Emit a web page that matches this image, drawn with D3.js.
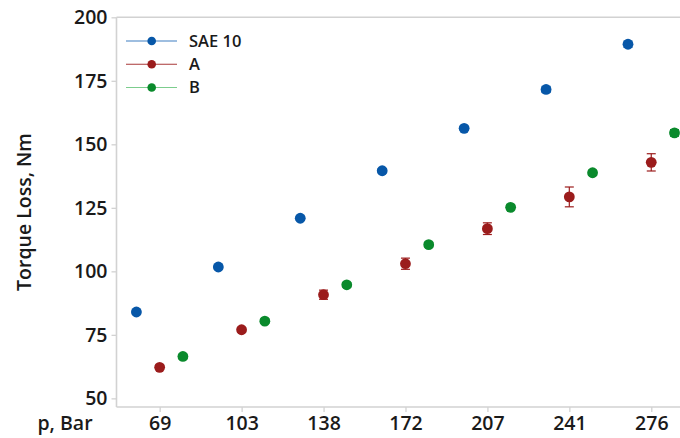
<!DOCTYPE html>
<html>
<head>
<meta charset="utf-8">
<script src="https://cdn.jsdelivr.net/npm/d3@7"></script>
<style>
  html, body { margin: 0; padding: 0; background: #fff; }
  svg { display: block; }
  text { font-family: "Open Sans", "Noto Sans", sans-serif; fill: #1a1a1a; }
</style>
</head>
<body>
<svg id="chart" width="680" height="438"></svg>
<script>
// ---- data ----
const categories = ["69", "103", "138", "172", "207", "241", "276"];
const seriesNames = ["SAE 10", "A", "B"];
const sae10 = [84.0, 101.7, 120.9, 139.6, 156.3, 171.6, 189.4];
const sae10Err = [0.8, 0.8, 0.8, 0.8, 0.8, 1.2, 1.2];
const seriesA = [62.2, 77.0, 90.8, 103.0, 116.8, 129.3, 142.9];
const seriesAErr = [0.9, 0.9, 1.8, 2.2, 2.3, 3.9, 3.4];
const seriesB = [66.5, 80.4, 94.7, 110.5, 125.2, 138.8, 154.5];
const seriesBErr = [0.9, 0.9, 0.9, 0.9, 1.0, 1.0, 1.3];
const yTicks = [50, 75, 100, 125, 150, 175, 200];
const xTitle = "p, Bar";
const yTitle = "Torque Loss, Nm";

const colors = { "SAE 10": "#0757a8", "A": "#9b1c1c", "B": "#0a8a2c" };
const legendLineColors = { "SAE 10": "#3f7fc2", "A": "#a83838", "B": "#7ccd8d" };

const series = [
  { name: "SAE 10", values: sae10, err: sae10Err },
  { name: "A", values: seriesA, err: seriesAErr },
  { name: "B", values: seriesB, err: seriesBErr }
];

// ---- layout ----
const svg = d3.select("#chart");
const pLeft = 116.5, pTop = 17.3, pBottom = 407, pRight = 680;

const x = d3.scalePoint().domain(categories).range([159.7, 651.3]);
const dodge = d3.scalePoint().domain(seriesNames).range([-23.3, 23.2]);
const y = d3.scaleLinear().domain([46.6, 200]).range([pBottom, pTop]);

const frameColor = "#d2d2d2";

// frame
svg.append("line").attr("x1", pLeft).attr("x2", pRight).attr("y1", pTop).attr("y2", pTop)
  .attr("stroke", frameColor).attr("stroke-width", 1.6);

// y axis
const yAxis = svg.append("g").attr("transform", `translate(${pLeft},0)`)
  .call(d3.axisLeft(y).tickValues(yTicks).tickSize(5).tickPadding(4));
yAxis.select(".domain").attr("stroke", frameColor).attr("stroke-width", 1.6)
  .attr("d", `M0,${pTop}V${pBottom}`);
yAxis.selectAll(".tick line").attr("stroke", frameColor).attr("stroke-width", 1.3);
yAxis.selectAll(".tick text").attr("font-size", 19.5).attr("font-weight", 600)
  .attr("fill", "#1a1a1a").attr("font-family", "'Open Sans', sans-serif");

// x axis
const xAxis = svg.append("g").attr("transform", `translate(0,${pBottom})`)
  .call(d3.axisBottom(x).tickSize(5).tickPadding(4));
xAxis.select(".domain").attr("stroke", frameColor).attr("stroke-width", 1.6)
  .attr("d", `M${pLeft},0H${pRight}`);
xAxis.selectAll(".tick line").attr("stroke", frameColor).attr("stroke-width", 1.3);
xAxis.selectAll(".tick text").attr("font-size", 19.5).attr("font-weight", 600)
  .attr("fill", "#1a1a1a").attr("font-family", "'Open Sans', sans-serif");

// axis titles
svg.append("text").attr("x", 65).attr("y", 430).attr("text-anchor", "middle")
  .attr("font-size", 19.5).attr("font-weight", 600).text(xTitle);
svg.append("text").attr("transform", `translate(31,212) rotate(-90)`)
  .attr("text-anchor", "middle").attr("font-size", 19.5).attr("font-weight", 600).text(yTitle);

// points + error bars
series.forEach(s => {
  const g = svg.append("g");
  const cx = i => x(categories[i]) + dodge(s.name);
  const data = s.values.map((v, i) => ({ v, e: s.err[i], i }));
  g.selectAll("line.err").data(data).join("line").attr("class", "err")
    .attr("x1", d => cx(d.i)).attr("x2", d => cx(d.i))
    .attr("y1", d => y(d.v + d.e)).attr("y2", d => y(d.v - d.e))
    .attr("stroke", colors[s.name]).attr("stroke-width", 1.2);
  ["top", "bot"].forEach(k => {
    g.selectAll("line.cap" + k).data(data).join("line").attr("class", "cap" + k)
      .attr("x1", d => cx(d.i) - 4.5).attr("x2", d => cx(d.i) + 4.5)
      .attr("y1", d => y(k === "top" ? d.v + d.e : d.v - d.e))
      .attr("y2", d => y(k === "top" ? d.v + d.e : d.v - d.e))
      .attr("stroke", colors[s.name]).attr("stroke-width", 1.2);
  });
  g.selectAll("circle").data(data).join("circle")
    .attr("cx", d => cx(d.i)).attr("cy", d => y(d.v)).attr("r", 5.4)
    .attr("fill", colors[s.name]);
});

// legend
const legend = svg.append("g");
const legendRows = d3.scalePoint().domain(seriesNames).range([41, 87.5]);
seriesNames.forEach(n => {
  const ly = legendRows(n);
  legend.append("line").attr("x1", 126).attr("x2", 177).attr("y1", ly).attr("y2", ly)
    .attr("stroke", legendLineColors[n]).attr("stroke-width", 1.2);
  legend.append("circle").attr("cx", 151.7).attr("cy", ly).attr("r", 4.3).attr("fill", colors[n]);
  legend.append("text").attr("x", 189).attr("y", ly).attr("dy", "0.36em")
    .attr("font-size", 16.5).attr("font-weight", 600).text(n);
});
</script>
</body>
</html>
